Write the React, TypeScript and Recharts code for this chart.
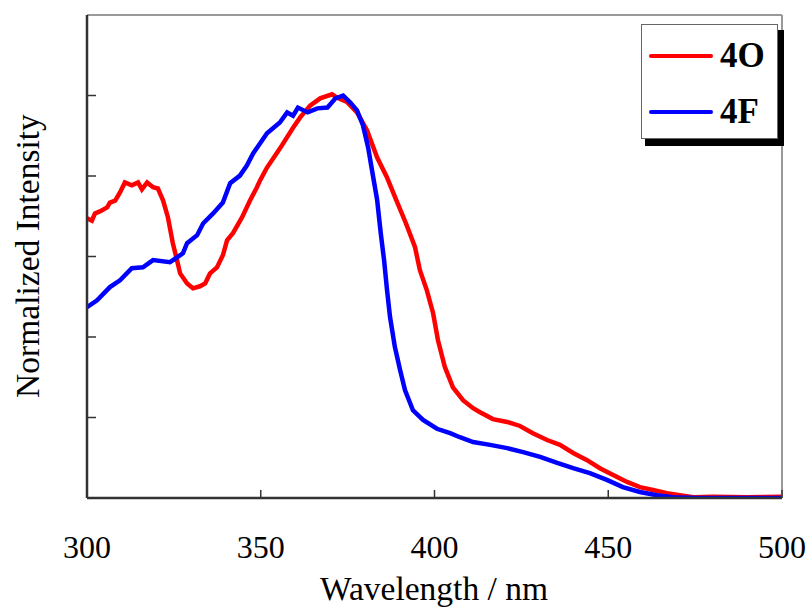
import React from 'react';
import { LineChart, Line, XAxis, YAxis, Legend } from 'recharts';

// ---- Data ----
const wavelength4O = [
  300.0, 301.4, 302.3, 303.7, 305.8, 306.6, 308.1, 309.5, 310.9, 312.9, 314.7, 315.8, 317.3, 319.0,
  320.4, 321.9, 323.3, 324.7, 325.9, 326.8, 328.8, 330.5, 332.5, 334.0, 335.4, 337.4, 339.1, 340.3,
  342.0, 344.6, 346.9, 348.9, 349.8, 351.8, 355.5, 359.3, 361.3, 364.2, 367.1, 370.5, 371.9, 374.8,
  377.7, 380.6, 383.5, 386.3, 389.0, 391.8, 394.4, 395.8, 397.8, 399.6, 401.0, 403.0, 405.3, 408.2,
  411.1, 413.1, 416.8, 420.9, 424.6, 428.3, 432.4, 436.1, 439.9, 443.9, 447.6, 451.4, 455.4, 459.1,
  462.9, 466.9, 470.6, 474.4, 480.0, 490.0, 500.0,
];
const intensity4O = [
  0.695, 0.689, 0.707, 0.712, 0.722, 0.734, 0.739, 0.759, 0.784, 0.777, 0.784, 0.767, 0.784, 0.772,
  0.769, 0.739, 0.697, 0.633, 0.591, 0.558, 0.533, 0.521, 0.526, 0.533, 0.558, 0.573, 0.603, 0.640,
  0.658, 0.697, 0.739, 0.772, 0.789, 0.821, 0.868, 0.920, 0.945, 0.975, 0.993, 1.003, 0.995, 0.984,
  0.958, 0.913, 0.846, 0.797, 0.740, 0.682, 0.623, 0.566, 0.516, 0.459, 0.392, 0.325, 0.275, 0.243,
  0.223, 0.213, 0.196, 0.189, 0.179, 0.161, 0.144, 0.132, 0.112, 0.094, 0.074, 0.057, 0.040, 0.027,
  0.020, 0.012, 0.007, 0.002, 0.003, 0.002, 0.003,
];

const wavelength4F = [
  300.0, 302.9, 306.6, 309.5, 312.9, 316.1, 319.0, 323.9, 325.9, 327.6, 328.8, 331.7, 333.4, 336.3,
  339.1, 341.2, 344.0, 346.0, 347.8, 351.8, 355.5, 357.6, 359.3, 360.7, 363.5, 366.3, 369.2, 371.5,
  373.7, 375.7, 377.7, 379.4, 380.9, 382.3, 383.5, 384.5, 385.5, 386.3, 387.2, 388.6, 390.1, 391.5,
  393.8, 396.7, 400.7, 404.5, 407.3, 411.1, 416.0, 420.9, 425.5, 430.4, 435.3, 439.9, 444.7, 449.6,
  454.2, 459.1, 464.0, 468.6, 475.0, 500.0,
];
const intensity4F = [
  0.474, 0.491, 0.524, 0.541, 0.571, 0.573, 0.591, 0.586, 0.598, 0.608, 0.633, 0.653, 0.682, 0.707,
  0.734, 0.782, 0.801, 0.826, 0.856, 0.906, 0.933, 0.958, 0.950, 0.970, 0.958, 0.968, 0.970, 0.993,
  1.000, 0.983, 0.963, 0.926, 0.871, 0.800, 0.740, 0.660, 0.590, 0.520, 0.450, 0.375, 0.318, 0.268,
  0.218, 0.194, 0.172, 0.161, 0.151, 0.139, 0.132, 0.124, 0.114, 0.102, 0.087, 0.074, 0.062, 0.045,
  0.027, 0.015, 0.007, 0.002, 0.000, 0.000,
];

const xTicks = [300, 350, 400, 450, 500];
const yTicks = [0, 0.2, 0.4, 0.6, 0.8, 1.0];

const series = [
  { name: '4O', color: '#ff0000', x: wavelength4O, y: intensity4O },
  { name: '4F', color: '#0000ff', x: wavelength4F, y: intensity4F },
];
const seriesOrder = series.map((s) => s.name);

const FONT = '"Liberation Serif", "Times New Roman", serif';

const XTick = (props: any) => {
  const { x, y, payload } = props;
  return (
    <g>
      <line x1={x} y1={y} x2={x} y2={y - 8} stroke="#333" strokeWidth={1.5} />
      <text x={x} y={y + 60} textAnchor="middle" fontSize={32} fontFamily={FONT} fill="#000">
        {payload.value}
      </text>
    </g>
  );
};

const YTick = (props: any) => {
  const { x, y } = props;
  return <line x1={x} y1={y} x2={x + 9} y2={y} stroke="#333" strokeWidth={1.5} />;
};

const YLabel = () => (
  <text
    x={39}
    y={256}
    transform="rotate(-90 39 256)"
    textAnchor="middle"
    fontSize={33.5}
    fontFamily={FONT}
    fill="#000"
  >
    Normalized Intensity
  </text>
);

const XLabel = () => (
  <text x={434} y={600} textAnchor="middle" fontSize={33.5} fontFamily={FONT} fill="#000">
    Wavelength / nm
  </text>
);

const LegendBox = (props: any) => {
  const payload = [...(props.payload || [])].sort(
    (a: any, b: any) => seriesOrder.indexOf(a.value) - seriesOrder.indexOf(b.value)
  );
  return (
    <svg width={146} height={126} style={{ display: 'block' }}>
      <rect x={4} y={6} width={139} height={116} fill="#000" />
      <rect x={0.5} y={0.5} width={136} height={114} fill="#fff" stroke="#666" strokeWidth={1} />
      {payload.map((p: any, i: number) => (
        <g key={p.value}>
          <line x1={10} y1={32 + i * 56} x2={70} y2={32 + i * 56} stroke={p.color} strokeWidth={4} strokeLinecap="round" />
          <text x={79} y={43 + i * 56} fontSize={35} fontWeight="bold" fontFamily={FONT} fill="#000">
            {p.value}
          </text>
        </g>
      ))}
    </svg>
  );
};

export default function App() {
  return (
    <div style={{ position: 'absolute', left: 0, top: 0, width: 812, height: 610, background: '#fff' }}>
      <LineChart width={812} height={610} margin={{ top: 14, right: 29, bottom: 82, left: 86 }}>
        <XAxis
          xAxisId="top"
          orientation="top"
          type="number"
          dataKey="x"
          domain={[300, 500]}
          height={1}
          tick={false}
          tickLine={false}
          axisLine={{ stroke: '#999', strokeWidth: 2 }}
        />
        <YAxis
          yAxisId="right"
          orientation="right"
          type="number"
          domain={[0, 1.2]}
          width={1}
          tick={false}
          tickLine={false}
          axisLine={{ stroke: '#999', strokeWidth: 2 }}
        />
        <XAxis
          type="number"
          dataKey="x"
          domain={[300, 500]}
          ticks={xTicks}
          allowDataOverflow
          height={30}
          tickLine={false}
          tickSize={0}
          tickMargin={0}
          tick={<XTick />}
          axisLine={{ stroke: '#333', strokeWidth: 2.5 }}
          label={<XLabel />}
        />
        <YAxis
          type="number"
          domain={[0, 1.2]}
          ticks={yTicks}
          allowDataOverflow
          width={1}
          tickLine={false}
          tickSize={0}
          tickMargin={0}
          tick={<YTick />}
          axisLine={{ stroke: '#333', strokeWidth: 2.5 }}
          label={<YLabel />}
        />
        {series.map((s) => (
          <Line
            key={s.name}
            name={s.name}
            data={s.x.map((xv, i) => ({ x: xv, y: s.y[i] }))}
            dataKey="y"
            type="linear"
            stroke={s.color}
            strokeWidth={4.5}
            dot={false}
            activeDot={false}
            isAnimationActive={false}
          />
        ))}
        <Legend
          layout="horizontal"
          verticalAlign="middle"
          align="center"
          content={<LegendBox />}
          wrapperStyle={{ position: 'absolute', left: 641, top: 24, width: 146, height: 126 }}
        />
      </LineChart>
    </div>
  );
}
